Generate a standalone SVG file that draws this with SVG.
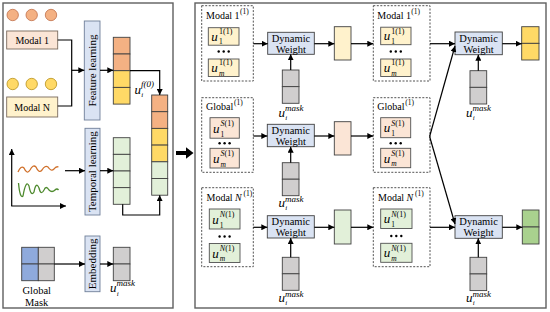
<svg xmlns="http://www.w3.org/2000/svg" width="550" height="312" viewBox="0 0 550 312">
<style>
.t{font-family:"Liberation Serif","Times New Roman",serif;fill:#000}
.it{font-style:italic}
.panel{fill:#fff;stroke:#5f5f5f;stroke-width:1.4}
.cell{stroke:#404040;stroke-width:0.9}
.or{fill:#F4B183}.ye{fill:#FFD966}.gr{fill:#E2F0D9}.gy{fill:#D0CECE}.bl{fill:#8FAADC}.pe{fill:#FBE5D6}.ly{fill:#FFF2CC}.dg{fill:#A9D18E}
.lb{fill:#DAE3F3;stroke:#6F7F99;stroke-width:0.9}
.dw{fill:#DAE3F3;stroke:#404040;stroke-width:0.9}
.dash{fill:none;stroke:#404040;stroke-width:0.9;stroke-dasharray:2 1.5}
.ib{stroke:#505050;stroke-width:0.9}
.c{fill:none;stroke:#000;stroke-width:1.2}
.a{marker-end:url(#ar)}
.dot{fill:#000}
</style>
<defs>
<marker id="ar" markerUnits="userSpaceOnUse" markerWidth="7" markerHeight="6" refX="6" refY="3" orient="auto">
<path d="M0,0 L6,3 L0,6 z" fill="#000"/>
</marker>
</defs>

<!-- Panels -->
<rect class="panel" x="3" y="3" width="170" height="305"/>
<rect class="panel" x="195" y="3" width="351" height="305"/>

<!-- Left panel nodes -->
<g id="modal1-circles">
<circle cx="12.7" cy="15" r="5.7" fill="#F4B183" stroke="#C0704A" stroke-width="0.8"/>
<circle cx="31.7" cy="15" r="5.7" fill="#F4B183" stroke="#C0704A" stroke-width="0.8"/>
<circle cx="51" cy="15" r="5.7" fill="#F4B183" stroke="#C0704A" stroke-width="0.8"/>
</g>
<g id="modal1">
<rect x="6.7" y="31" width="51" height="18" fill="#FBE5D6" stroke="#7A6A5E" stroke-width="0.9"/>
<text class="t" x="32.2" y="43.5" font-size="10" text-anchor="middle">Modal 1</text>
</g>
<g id="modalN-circles">
<circle cx="12.7" cy="84" r="5.7" fill="#FFD966" stroke="#B8901A" stroke-width="0.8"/>
<circle cx="31.7" cy="84" r="5.7" fill="#FFD966" stroke="#B8901A" stroke-width="0.8"/>
<circle cx="51" cy="84" r="5.7" fill="#FFD966" stroke="#B8901A" stroke-width="0.8"/>
</g>
<g id="modalN">
<rect x="6.7" y="97" width="51" height="20" fill="#FFF2CC" stroke="#7A6A5E" stroke-width="0.9"/>
<text class="t" x="32.2" y="110.5" font-size="10" text-anchor="middle">Modal N</text>
</g>
<g id="feature-learning">
<rect class="lb" x="84.3" y="21" width="15.7" height="99"/>
<text class="t" font-size="11" text-anchor="middle" transform="translate(96,70.5) rotate(-90)">Feature learning</text>
</g>
<g id="feature-vector">
<rect class="cell or" x="113.3" y="37.3" width="16.7" height="16.7"/>
<rect class="cell or" x="113.3" y="54" width="16.7" height="16.7"/>
<rect class="cell ye" x="113.3" y="70.7" width="16.7" height="16.7"/>
<rect class="cell ye" x="113.3" y="87.4" width="16.7" height="16.7"/>
<text class="t it" x="134.5" y="93.5" font-size="13">u</text>
<text class="t it" x="141.2" y="97" font-size="7">i</text>
<text class="t it" x="141" y="87" font-size="9">f(0)</text>
</g>
<g id="concat-vector">
<rect class="cell or" x="151.7" y="95" width="16" height="16.7"/>
<rect class="cell or" x="151.7" y="111.7" width="16" height="16.7"/>
<rect class="cell ye" x="151.7" y="128.4" width="16" height="16.7"/>
<rect class="cell ye" x="151.7" y="145.1" width="16" height="16.7"/>
<rect class="cell gr" x="151.7" y="161.8" width="16" height="16.7"/>
<rect class="cell gr" x="151.7" y="178.5" width="16" height="16.7"/>
</g>
<g id="timeseries-plot">
<line class="c a" x1="11.7" y1="206" x2="11.7" y2="149"/>
<line class="c a" x1="11.2" y1="206" x2="66" y2="206"/>
<path d="M18,172 Q21,165 24,168 Q27,175 30,170 Q33,164 36,167 Q39,174 42,170 Q45,165 48,167 Q51,172 54,169 Q56,166 58.5,167" fill="none" stroke="#D0702A" stroke-width="1.3"/>
<path d="M18.5,183 Q20,199 23,196 Q26,179 29,186 Q31,197 34,192 Q36,181 39,188 Q41,196 44,190 Q46,185 49,190 Q52,193 55,190 Q57,188 58.5,190" fill="none" stroke="#4E8A2E" stroke-width="1.3"/>
</g>
<g id="temporal-learning">
<rect class="lb" x="85" y="128.3" width="15" height="86.7"/>
<text class="t" font-size="11" text-anchor="middle" transform="translate(96.2,171.7) rotate(-90)">Temporal learning</text>
</g>
<g id="temporal-vector">
<rect class="cell gr" x="113.3" y="137.7" width="16.7" height="16.65"/>
<rect class="cell gr" x="113.3" y="154.35" width="16.7" height="16.65"/>
<rect class="cell gr" x="113.3" y="171" width="16.7" height="16.65"/>
<rect class="cell gr" x="113.3" y="187.65" width="16.7" height="16.65"/>
</g>
<g id="global-mask">
<rect class="cell bl" x="21.7" y="247.3" width="16.6" height="16.7"/>
<rect class="cell bl" x="21.7" y="264" width="16.6" height="16.7"/>
<rect class="cell gy" x="38.3" y="247.3" width="16" height="16.7"/>
<rect class="cell gy" x="38.3" y="264" width="16" height="16.7"/>
<text class="t" x="36.7" y="294" font-size="10.5" text-anchor="middle">Global</text>
<text class="t" x="36.7" y="306" font-size="10.5" text-anchor="middle">Mask</text>
</g>
<g id="embedding">
<rect class="lb" x="85" y="236" width="15" height="55.7"/>
<text class="t" font-size="11" text-anchor="middle" transform="translate(96.2,263.8) rotate(-90)">Embedding</text>
</g>
<g id="mask-vector">
<rect class="cell gy" x="113.3" y="247.3" width="16.7" height="16.7"/>
<rect class="cell gy" x="113.3" y="264" width="16.7" height="16.7"/>
<text class="t it" x="110" y="292" font-size="13">u</text>
<text class="t it" x="116.7" y="295.5" font-size="7">i</text>
<text class="t it" x="116.5" y="286" font-size="9">mask</text>
</g>

<!-- Right panel: stage 1 -->
<g id="s1-modal1">
<rect class="dash" x="201.7" y="5.7" width="51.6" height="75.3"/>
<text class="t" x="206" y="19" font-size="10">Modal 1</text>
<text class="t" x="240" y="14" font-size="7.5">(1)</text>
<rect class="ib ly" x="208.3" y="27.7" width="30.7" height="17.5"/>
<text class="t it" x="211.3" y="40.5" font-size="13">u</text>
<text class="t" x="219" y="34" font-size="8">1(1)</text>
<text class="t" x="219" y="44.2" font-size="7.5">1</text>
<circle class="dot" cx="218.7" cy="51.5" r="1.2"/><circle class="dot" cx="223.7" cy="51.5" r="1.2"/><circle class="dot" cx="228.7" cy="51.5" r="1.2"/>
<rect class="ib ly" x="208.3" y="59" width="30.7" height="17.5"/>
<text class="t it" x="211.3" y="71.8" font-size="13">u</text>
<text class="t" x="219" y="65.3" font-size="8">1(1)</text>
<text class="t it" x="219" y="75.5" font-size="7.5">m</text>
</g>
<g id="s1-dw1">
<rect class="dw" x="267.7" y="32.3" width="46.6" height="22"/>
<text class="t" x="291" y="41.5" font-size="10.5" text-anchor="middle">Dynamic</text>
<text class="t" x="291" y="52.5" font-size="10.5" text-anchor="middle">Weight</text>
</g>
<g id="s1-mask1">
<rect class="cell gy" x="282.3" y="70" width="16.7" height="16.65"/>
<rect class="cell gy" x="282.3" y="86.65" width="16.7" height="16.65"/>
<text class="t it" x="278.5" y="116.5" font-size="13">u</text>
<text class="t it" x="285.2" y="120" font-size="7">i</text>
<text class="t it" x="285" y="111" font-size="9">mask</text>
</g>
<g id="s1-out1">
<rect class="cell ly" x="334.3" y="26.7" width="16.7" height="33.3"/>
</g>

<g id="s1-global">
<rect class="dash" x="201.7" y="97.7" width="51.6" height="74.6"/>
<text class="t" x="206" y="109.5" font-size="10">Global</text>
<text class="t" x="234" y="104.5" font-size="7.5">(1)</text>
<rect class="ib pe" x="210" y="117.7" width="29.3" height="20.5"/>
<text class="t it" x="213" y="132.5" font-size="13">u</text>
<text class="t" x="220.5" y="125.8" font-size="8"><tspan class="it">S</tspan>(1)</text>
<text class="t" x="220.5" y="136.5" font-size="7.5">1</text>
<circle class="dot" cx="219.6" cy="143.3" r="1.2"/><circle class="dot" cx="224.6" cy="143.3" r="1.2"/><circle class="dot" cx="229.6" cy="143.3" r="1.2"/>
<rect class="ib pe" x="210" y="148.3" width="29.3" height="19.7"/>
<text class="t it" x="213" y="162.8" font-size="13">u</text>
<text class="t" x="220.5" y="156.3" font-size="8"><tspan class="it">S</tspan>(1)</text>
<text class="t it" x="220.5" y="166.5" font-size="7.5">m</text>
</g>
<g id="s1-dw2">
<rect class="dw" x="267.3" y="124.3" width="47" height="22.4"/>
<text class="t" x="290.8" y="133.7" font-size="10.5" text-anchor="middle">Dynamic</text>
<text class="t" x="290.8" y="144.7" font-size="10.5" text-anchor="middle">Weight</text>
</g>
<g id="s1-mask2">
<rect class="cell gy" x="282.3" y="162.7" width="16.7" height="16.5"/>
<rect class="cell gy" x="282.3" y="179.2" width="16.7" height="16.5"/>
<text class="t it" x="278.5" y="206.5" font-size="13">u</text>
<text class="t it" x="285.2" y="210" font-size="7">i</text>
<text class="t it" x="285" y="201.5" font-size="9">mask</text>
</g>
<g id="s1-out2">
<rect class="cell pe" x="334.3" y="121.7" width="16.7" height="33.3"/>
</g>

<g id="s1-modalN">
<rect class="dash" x="201.7" y="187.7" width="51.6" height="79"/>
<text class="t" x="206.5" y="200.5" font-size="10">Modal <tspan class="it">N</tspan></text>
<text class="t" x="243.5" y="195.5" font-size="7.5">(1)</text>
<rect class="ib gr" x="209.3" y="209" width="30.7" height="20"/>
<text class="t it" x="212.3" y="223.5" font-size="13">u</text>
<text class="t" x="219.8" y="217" font-size="8"><tspan class="it">N</tspan>(1)</text>
<text class="t" x="219.8" y="227.5" font-size="7.5">1</text>
<circle class="dot" cx="219.6" cy="236.5" r="1.2"/><circle class="dot" cx="224.6" cy="236.5" r="1.2"/><circle class="dot" cx="229.6" cy="236.5" r="1.2"/>
<rect class="ib gr" x="209.3" y="243.5" width="30.7" height="19"/>
<text class="t it" x="212.3" y="257.5" font-size="13">u</text>
<text class="t" x="219.8" y="251" font-size="8"><tspan class="it">N</tspan>(1)</text>
<text class="t it" x="219.8" y="261" font-size="7.5">m</text>
</g>
<g id="s1-dw3">
<rect class="dw" x="267.3" y="215.7" width="47" height="22.3"/>
<text class="t" x="290.8" y="225" font-size="10.5" text-anchor="middle">Dynamic</text>
<text class="t" x="290.8" y="236" font-size="10.5" text-anchor="middle">Weight</text>
</g>
<g id="s1-mask3">
<rect class="cell gy" x="282.3" y="257.3" width="16.7" height="16.5"/>
<rect class="cell gy" x="282.3" y="273.8" width="16.7" height="16.5"/>
<text class="t it" x="278.5" y="301.5" font-size="13">u</text>
<text class="t it" x="285.2" y="305" font-size="7">i</text>
<text class="t it" x="285" y="296.5" font-size="9">mask</text>
</g>
<g id="s1-out3">
<rect class="cell gr" x="334.3" y="210" width="16.7" height="34"/>
</g>

<!-- Right panel: stage 2 -->
<g id="s2-modal1">
<rect class="dash" x="373.3" y="5.7" width="56.7" height="75.3"/>
<text class="t" x="377.3" y="19" font-size="10">Modal 1</text>
<text class="t" x="411.2" y="14" font-size="7.5">(1)</text>
<rect class="ib ly" x="380.7" y="27.2" width="30.3" height="17.5"/>
<text class="t it" x="383.7" y="40" font-size="13">u</text>
<text class="t" x="391.2" y="33.5" font-size="8">1(1)</text>
<text class="t" x="391.2" y="43.7" font-size="7.5">1</text>
<circle class="dot" cx="390.8" cy="51.5" r="1.2"/><circle class="dot" cx="395.8" cy="51.5" r="1.2"/><circle class="dot" cx="400.8" cy="51.5" r="1.2"/>
<rect class="ib ly" x="380.7" y="59" width="30.3" height="17.5"/>
<text class="t it" x="383.7" y="71.8" font-size="13">u</text>
<text class="t" x="391.2" y="65.3" font-size="8">1(1)</text>
<text class="t it" x="391.2" y="75.5" font-size="7.5">m</text>
</g>
<g id="s2-dw1">
<rect class="dw" x="455" y="32" width="47.3" height="22.7"/>
<text class="t" x="478.6" y="41.5" font-size="10.5" text-anchor="middle">Dynamic</text>
<text class="t" x="478.6" y="52.5" font-size="10.5" text-anchor="middle">Weight</text>
</g>
<g id="s2-mask1">
<rect class="cell gy" x="470" y="70.7" width="16.7" height="16.65"/>
<rect class="cell gy" x="470" y="87.35" width="16.7" height="16.65"/>
<text class="t it" x="466" y="116.5" font-size="13">u</text>
<text class="t it" x="472.7" y="120" font-size="7">i</text>
<text class="t it" x="472.5" y="111" font-size="9">mask</text>
</g>
<g id="s2-out1">
<rect class="cell ye" x="521.7" y="26.7" width="17.3" height="16.65"/>
<rect class="cell ye" x="521.7" y="43.35" width="17.3" height="16.65"/>
</g>

<g id="s2-global">
<rect class="dash" x="373.3" y="97.7" width="56.7" height="74.6"/>
<text class="t" x="377.3" y="109.5" font-size="10">Global</text>
<text class="t" x="405.3" y="104.5" font-size="7.5">(1)</text>
<rect class="ib pe" x="380.7" y="117.7" width="30" height="20"/>
<text class="t it" x="383.7" y="132.2" font-size="13">u</text>
<text class="t" x="391.2" y="125.7" font-size="8"><tspan class="it">S</tspan>(1)</text>
<text class="t" x="391.2" y="136.2" font-size="7.5">1</text>
<circle class="dot" cx="390.7" cy="143.3" r="1.2"/><circle class="dot" cx="395.7" cy="143.3" r="1.2"/><circle class="dot" cx="400.7" cy="143.3" r="1.2"/>
<rect class="ib pe" x="380.7" y="148.3" width="30" height="19.4"/>
<text class="t it" x="383.7" y="162.5" font-size="13">u</text>
<text class="t" x="391.2" y="156" font-size="8"><tspan class="it">S</tspan>(1)</text>
<text class="t it" x="391.2" y="166.3" font-size="7.5">m</text>
</g>

<g id="s2-modalN">
<rect class="dash" x="373.3" y="187.7" width="56.7" height="79"/>
<text class="t" x="378" y="200.5" font-size="10">Modal <tspan class="it">N</tspan></text>
<text class="t" x="415" y="195.5" font-size="7.5">(1)</text>
<rect class="ib gr" x="380.7" y="209" width="31.3" height="19.5"/>
<text class="t it" x="383.7" y="223.3" font-size="13">u</text>
<text class="t" x="391.2" y="216.8" font-size="8"><tspan class="it">N</tspan>(1)</text>
<text class="t" x="391.2" y="227.2" font-size="7.5">1</text>
<circle class="dot" cx="391.3" cy="236" r="1.2"/><circle class="dot" cx="396.3" cy="236" r="1.2"/><circle class="dot" cx="401.3" cy="236" r="1.2"/>
<rect class="ib gr" x="380.7" y="243.3" width="31.3" height="19"/>
<text class="t it" x="383.7" y="257.3" font-size="13">u</text>
<text class="t" x="391.2" y="250.8" font-size="8"><tspan class="it">N</tspan>(1)</text>
<text class="t it" x="391.2" y="261" font-size="7.5">m</text>
</g>
<g id="s2-dw3">
<rect class="dw" x="455" y="215.7" width="47.3" height="22.6"/>
<text class="t" x="478.6" y="225" font-size="10.5" text-anchor="middle">Dynamic</text>
<text class="t" x="478.6" y="236" font-size="10.5" text-anchor="middle">Weight</text>
</g>
<g id="s2-mask3">
<rect class="cell gy" x="470" y="257.3" width="16.7" height="16.65"/>
<rect class="cell gy" x="470" y="273.95" width="16.7" height="16.65"/>
<text class="t it" x="466" y="301.5" font-size="13">u</text>
<text class="t it" x="472.7" y="305" font-size="7">i</text>
<text class="t it" x="472.5" y="296.5" font-size="9">mask</text>
</g>
<g id="s2-out3">
<rect class="cell dg" x="522.3" y="210" width="16.7" height="17"/>
<rect class="cell dg" x="522.3" y="227" width="16.7" height="17"/>
</g>

<!-- Big arrow between panels -->
<g id="panel-arrow">
<polygon points="176,151 186,151 186,147.3 193.5,153 186,158.7 186,155 176,155" fill="#000"/>
</g>

<!-- Connectors -->
<g id="connectors">
<polyline class="c" points="57.7,40 71.7,40 71.7,106 57.7,106"/>
<line class="c a" x1="71.7" y1="70.3" x2="84.3" y2="70.3"/>
<line class="c a" x1="100" y1="70.3" x2="113.3" y2="70.3"/>
<polyline class="c a" points="130,70.7 159.7,70.7 159.7,95"/>
<line class="c a" x1="65" y1="170.7" x2="85" y2="170.7"/>
<line class="c a" x1="100" y1="170.7" x2="113.3" y2="170.7"/>
<polyline class="c a" points="122.7,204.3 122.7,215 159.7,215 159.7,195.2"/>
<line class="c a" x1="54.3" y1="264" x2="85" y2="264"/>
<line class="c a" x1="100" y1="264" x2="113.3" y2="264"/>

<line class="c a" x1="253.3" y1="43.7" x2="267.7" y2="43.7"/>
<line class="c a" x1="290.7" y1="70" x2="290.7" y2="54.3"/>
<line class="c a" x1="314.3" y1="43.7" x2="334.3" y2="43.7"/>
<line class="c a" x1="351" y1="43.7" x2="373.3" y2="43.7"/>

<line class="c a" x1="253.3" y1="136" x2="267.3" y2="136"/>
<line class="c a" x1="290.7" y1="162.7" x2="290.7" y2="146.7"/>
<line class="c a" x1="314.3" y1="136" x2="334.3" y2="136"/>
<line class="c a" x1="351" y1="136" x2="373.3" y2="136"/>

<line class="c a" x1="253.3" y1="227.3" x2="267.3" y2="227.3"/>
<line class="c a" x1="290.7" y1="257.3" x2="290.7" y2="238"/>
<line class="c a" x1="314.3" y1="227.3" x2="334.3" y2="227.3"/>
<line class="c a" x1="351" y1="227.3" x2="373.3" y2="227.3"/>

<line class="c a" x1="430" y1="43.7" x2="455" y2="43.7"/>
<line class="c a" x1="478.3" y1="70.7" x2="478.3" y2="54.7"/>
<line class="c a" x1="502.3" y1="43.7" x2="521.7" y2="43.7"/>
<line class="c a" x1="429.6" y1="136.5" x2="455" y2="46"/>
<line class="c a" x1="429.6" y1="136.5" x2="455" y2="224"/>
<line class="c a" x1="430" y1="227.3" x2="455" y2="227.3"/>
<line class="c a" x1="478.3" y1="257.3" x2="478.3" y2="238.3"/>
<line class="c a" x1="502.3" y1="227.3" x2="522.3" y2="227.3"/>
</g>
</svg>
